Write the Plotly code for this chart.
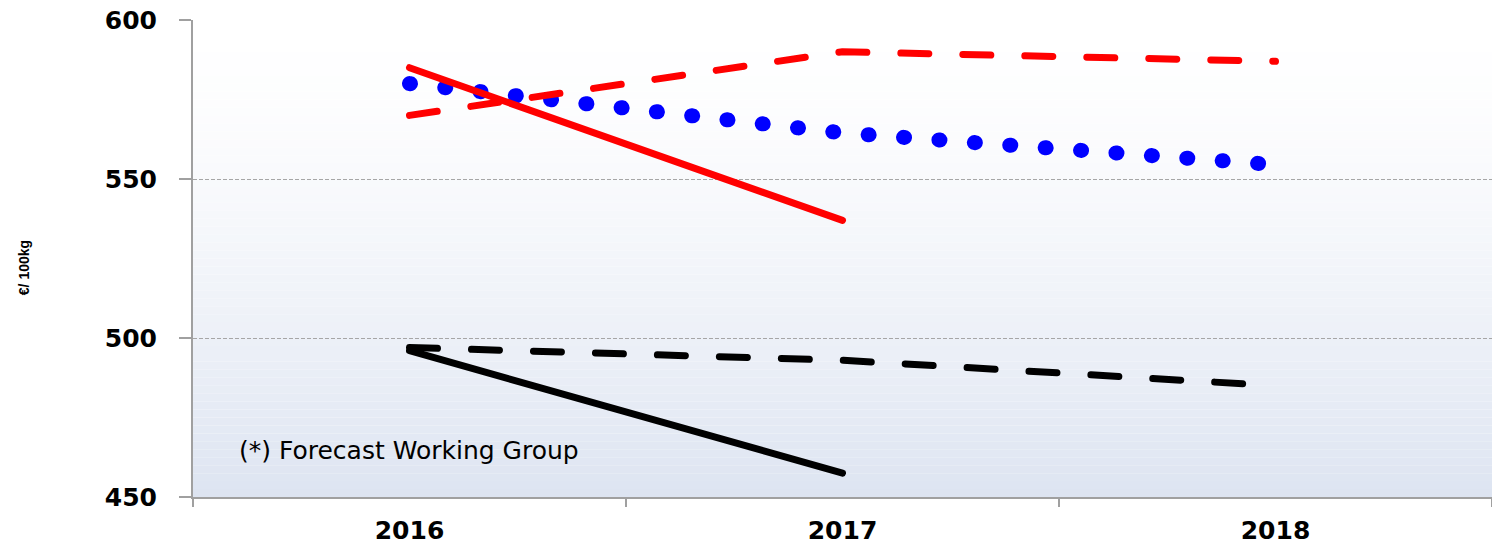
import plotly.graph_objects as go

years = ["2016", "2017", "2018"]
red_solid = [585, 537]
red_dashed = [570, 590, 587]
blue_dotted = [580, 564.5, 554.5]
black_solid = [496, 457.5]
black_dashed = [497, 493, 485]
y_ticks = [450, 500, 550, 600]
note_text = "(*) Forecast Working Group"
y_title = "€/ 100kg"

fig = go.Figure()

fig.add_trace(go.Scatter(x=years, y=blue_dotted, mode="lines",
                         line=dict(color="#0000ff", width=15, dash="1px,34.5px")))
fig.add_trace(go.Scatter(x=years, y=red_dashed, mode="lines",
                         line=dict(color="#ff0000", width=7, dash="28px,34px")))
fig.add_trace(go.Scatter(x=years[:2], y=red_solid, mode="lines",
                         line=dict(color="#ff0000", width=7)))
fig.add_trace(go.Scatter(x=years, y=black_dashed, mode="lines",
                         line=dict(color="#000000", width=7, dash="28px,34px")))
fig.add_trace(go.Scatter(x=years[:2], y=black_solid, mode="lines",
                         line=dict(color="#000000", width=7)))

# background gradient (white top -> light blue-grey bottom)
n = 60
c0 = (255, 255, 255)
c1 = (221, 228, 241)
shapes = []
for i in range(n):
    t = (i + 0.5) / n  # 0 top -> 1 bottom
    w = t ** 1.5
    col = tuple(round(c0[k] + (c1[k] - c0[k]) * w) for k in range(3))
    shapes.append(dict(type="rect", xref="x domain", yref="y domain",
                       x0=0, x1=1, y0=1 - (i + 1) / n, y1=1 - i / n,
                       fillcolor="rgb(%d,%d,%d)" % col, line=dict(width=0),
                       layer="below"))

fig.update_layout(
    width=1492, height=545,
    margin=dict(l=193, r=0, t=19.5, b=47.5),
    paper_bgcolor="white", plot_bgcolor="rgba(0,0,0,0)",
    showlegend=False,
    shapes=shapes,
    font=dict(family="DejaVu Sans", color="black"),
)

fig.update_xaxes(
    type="category", range=[-0.5, 2.5],
    tickson="boundaries", ticks="outside", ticklen=8, tickwidth=2, tickcolor="#a0a0a0",
    showline=True, linecolor="#a0a0a0", linewidth=2,
    showgrid=False, zeroline=False,
    tickfont=dict(family="DejaVu Sans", size=25, color="black", weight="bold"),
    ticklabelstandoff=10,
)
fig.update_yaxes(
    range=[450, 600], tickvals=y_ticks,
    ticks="outside", ticklen=12, tickwidth=2, tickcolor="#a0a0a0",
    showline=True, linecolor="#a0a0a0", linewidth=2,
    showgrid=True, gridcolor="#a6a6a6", gridwidth=1, griddash="4px,2px",
    zeroline=False,
    tickfont=dict(family="DejaVu Sans", size=25, color="black", weight="bold"),
    ticklabelstandoff=17,
)

fig.add_annotation(text=note_text, xref="paper", yref="y", x=0.034, y=464.5,
                   xanchor="left", yanchor="middle", showarrow=False,
                   font=dict(family="DejaVu Sans", size=25, color="black"))
fig.add_annotation(text=y_title, xref="paper", yref="paper", x=-0.13, y=0.48,
                   xanchor="center", yanchor="middle", textangle=-90, showarrow=False,
                   font=dict(family="Liberation Sans Narrow, Liberation Sans", size=14,
                             color="black", weight="bold"))

post = """
document.body.style.margin = '0';
var gd = document.getElementById('{plot_id}');
function rc(){ gd.querySelectorAll('.scatterlayer path.js-line').forEach(function(p){ p.style.strokeLinecap='round'; p.style.strokeLinejoin='round'; }); }
rc();
gd.on('plotly_afterplot', rc);
"""
fig.write_html("out.html", post_script=post, config={"displayModeBar": False})
